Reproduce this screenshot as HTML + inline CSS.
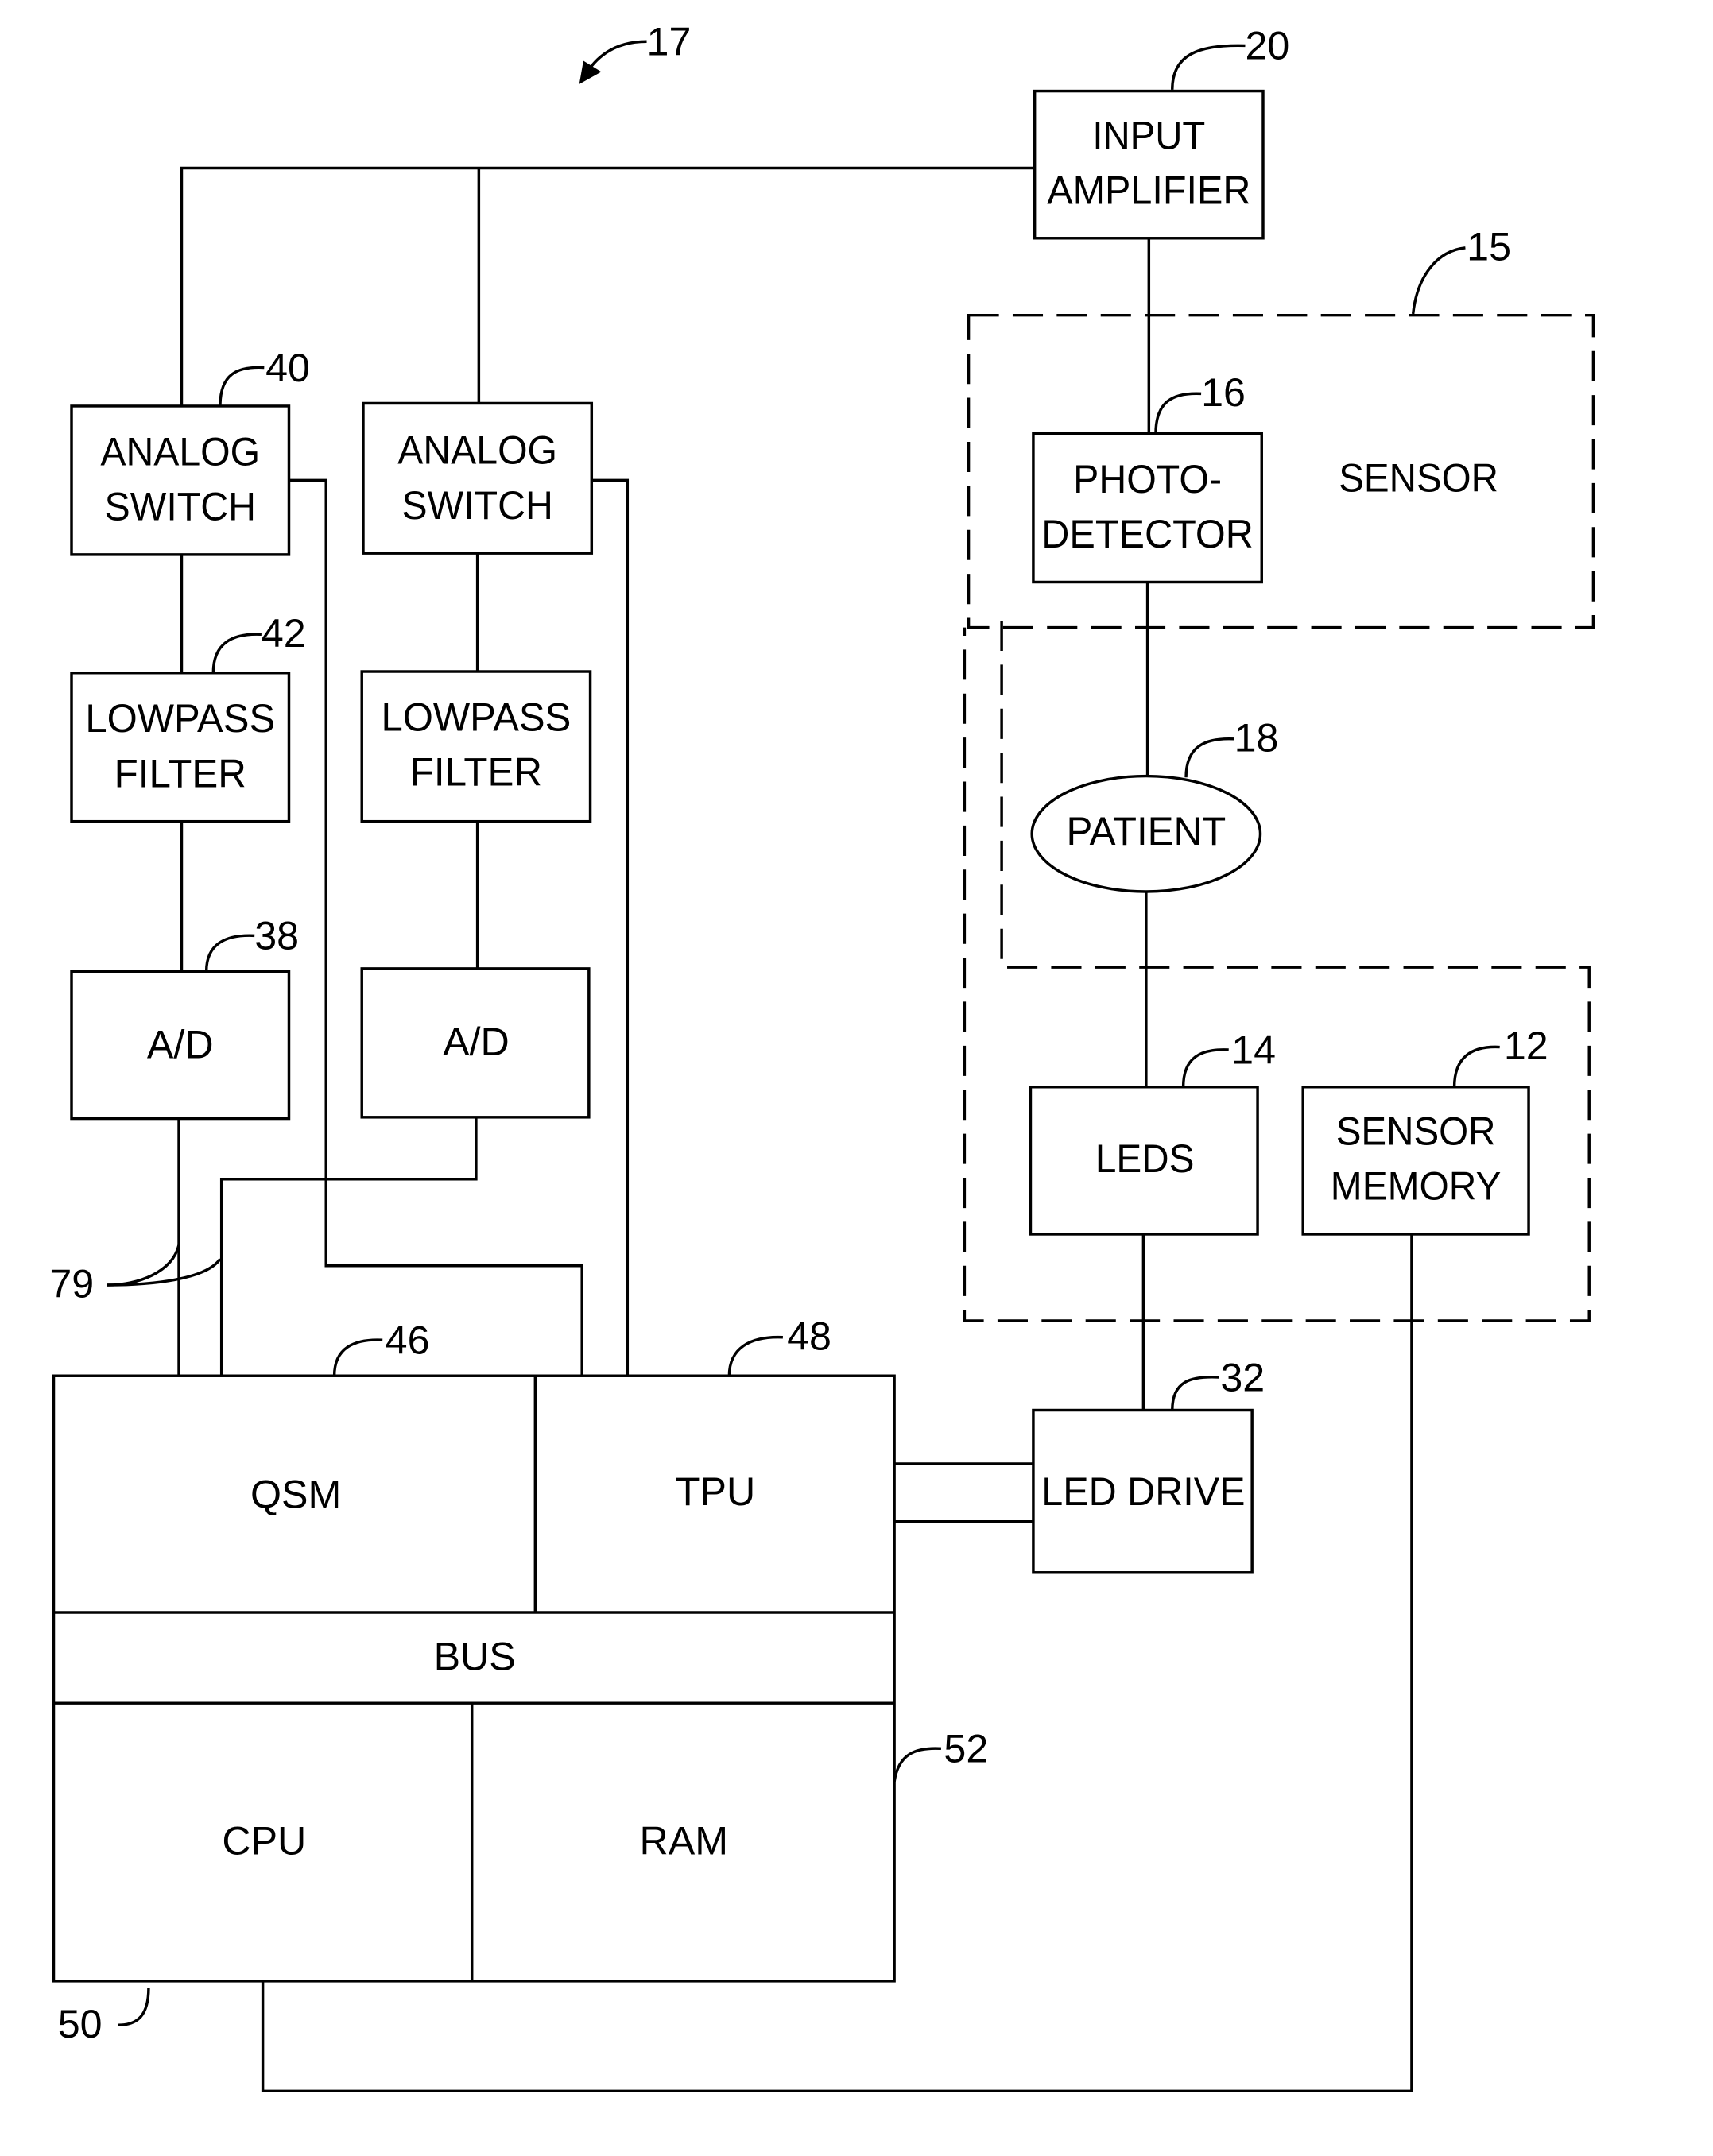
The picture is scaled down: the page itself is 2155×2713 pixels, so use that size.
<!DOCTYPE html>
<html><head><meta charset="utf-8"><style>
html,body{margin:0;padding:0;background:#fff;}
svg{display:block;}
text{font-family:"Liberation Sans",sans-serif;fill:#000;font-size:29px;}
</style></head><body>
<svg width="2155" height="2713" viewBox="0 0 1245 1567" xmlns="http://www.w3.org/2000/svg">
<g fill="none" stroke="#000" stroke-width="2">
<!-- boxes -->
<rect x="752" y="66" width="166" height="107"/>
<rect x="52" y="295" width="158" height="108"/>
<rect x="264" y="293" width="166" height="109"/>
<rect x="52" y="489" width="158" height="108"/>
<rect x="263" y="488" width="166" height="109"/>
<rect x="52" y="706" width="158" height="107"/>
<rect x="263" y="704" width="165" height="108"/>
<rect x="751" y="315" width="166" height="108"/>
<ellipse cx="833" cy="606" rx="83" ry="42"/>
<rect x="749" y="790" width="165" height="107"/>
<rect x="947" y="790" width="164" height="107"/>
<rect x="751" y="1025" width="159" height="118"/>
<!-- main block -->
<rect x="39" y="1000" width="611" height="440"/>
<line x1="389" y1="1000" x2="389" y2="1172"/>
<line x1="39" y1="1172" x2="650" y2="1172"/>
<line x1="39" y1="1238" x2="650" y2="1238"/>
<line x1="343" y1="1238" x2="343" y2="1440"/>
<!-- wires -->
<polyline points="132,295 132,122 752,122"/>
<line x1="348" y1="122" x2="348" y2="293"/>
<polyline points="210,349 237,349 237,920 423,920 423,1000"/>
<polyline points="430,349 456,349 456,1000"/>
<line x1="132" y1="403" x2="132" y2="489"/>
<line x1="132" y1="597" x2="132" y2="706"/>
<line x1="130" y1="813" x2="130" y2="1000"/>
<line x1="347" y1="402" x2="347" y2="488"/>
<line x1="347" y1="597" x2="347" y2="704"/>
<polyline points="346,812 346,857 161,857 161,1000"/>
<line x1="835" y1="173" x2="835" y2="315"/>
<line x1="834" y1="423" x2="834" y2="564"/>
<line x1="833" y1="648" x2="833" y2="790"/>
<line x1="831" y1="897" x2="831" y2="1025"/>
<line x1="650" y1="1064" x2="751" y2="1064"/>
<line x1="650" y1="1106" x2="751" y2="1106"/>
<polyline points="1026,897 1026,1520 191,1520 191,1440"/>
<!-- dashed -->
<g stroke-dasharray="22,10">
<rect x="704" y="229" width="454" height="227"/>
<polyline points="728,451 728,703 1155,703 1155,960 701,960 701,456"/>
</g>
<!-- leaders -->
<path d="M852,65 C852,40 870,32 905,33"/>
<path d="M160,295 C160,272 172,266 192,267"/>
<path d="M155,489 C155,468 168,460 190,461"/>
<path d="M150,706 C150,686 164,679 185,680"/>
<path d="M840,315 C840,292 852,285 873,286"/>
<path d="M862,565 C862,543 875,536 897,537"/>
<path d="M860,790 C860,769 872,762 893,763"/>
<path d="M1057,790 C1057,768 1070,760 1090,761"/>
<path d="M852,1025 C852,1004 865,1000 886,1001"/>
<path d="M243,1000 C243,980 257,973 278,974"/>
<path d="M530,1000 C530,980 545,971 569,972"/>
<path d="M650,1295 C653,1275 665,1270 684,1271"/>
<path d="M108,1445 C108,1465 100,1472 86,1472"/>
<path d="M1027,228 C1030,200 1045,182 1065,180"/>
<path d="M78,934 C100,934 125,925 130,905"/>
<path d="M78,934 C110,934 150,930 160,915"/>
<path d="M470,30 C450,30 435,38 425,55"/>
</g>
<polygon points="421,61 424,44 437,52" fill="#000"/>
<!-- labels -->
<g text-anchor="middle">
<text x="835" y="108" textLength="82" lengthAdjust="spacingAndGlyphs">INPUT</text>
<text x="835" y="148" textLength="148" lengthAdjust="spacingAndGlyphs">AMPLIFIER</text>
<text x="131" y="338" textLength="116" lengthAdjust="spacingAndGlyphs">ANALOG</text>
<text x="131" y="378" textLength="110" lengthAdjust="spacingAndGlyphs">SWITCH</text>
<text x="347" y="337" textLength="116" lengthAdjust="spacingAndGlyphs">ANALOG</text>
<text x="347" y="377" textLength="110" lengthAdjust="spacingAndGlyphs">SWITCH</text>
<text x="131" y="532" textLength="138" lengthAdjust="spacingAndGlyphs">LOWPASS</text>
<text x="131" y="572" textLength="96" lengthAdjust="spacingAndGlyphs">FILTER</text>
<text x="346" y="531" textLength="138" lengthAdjust="spacingAndGlyphs">LOWPASS</text>
<text x="346" y="571" textLength="96" lengthAdjust="spacingAndGlyphs">FILTER</text>
<text x="131" y="769">A/D</text>
<text x="346" y="767">A/D</text>
<text x="834" y="358" textLength="108" lengthAdjust="spacingAndGlyphs">PHOTO-</text>
<text x="834" y="398" textLength="154" lengthAdjust="spacingAndGlyphs">DETECTOR</text>
<text x="1031" y="357" textLength="116" lengthAdjust="spacingAndGlyphs">SENSOR</text>
<text x="833" y="614" textLength="116" lengthAdjust="spacingAndGlyphs">PATIENT</text>
<text x="832" y="852" textLength="72" lengthAdjust="spacingAndGlyphs">LEDS</text>
<text x="1029" y="832" textLength="116" lengthAdjust="spacingAndGlyphs">SENSOR</text>
<text x="1029" y="872" textLength="124" lengthAdjust="spacingAndGlyphs">MEMORY</text>
<text x="831" y="1094" textLength="148" lengthAdjust="spacingAndGlyphs">LED DRIVE</text>
<text x="215" y="1096">QSM</text>
<text x="520" y="1094">TPU</text>
<text x="345" y="1214">BUS</text>
<text x="192" y="1348">CPU</text>
<text x="497" y="1348">RAM</text>
</g>
<g>
<text x="470" y="40">17</text>
<text x="905" y="43">20</text>
<text x="1066" y="189">15</text>
<text x="193" y="277">40</text>
<text x="873" y="295">16</text>
<text x="190" y="470">42</text>
<text x="897" y="546">18</text>
<text x="185" y="690">38</text>
<text x="895" y="773">14</text>
<text x="1093" y="770">12</text>
<text x="36" y="943">79</text>
<text x="280" y="984">46</text>
<text x="572" y="981">48</text>
<text x="887" y="1011">32</text>
<text x="686" y="1281">52</text>
<text x="42" y="1481">50</text>
</g>
</svg>
</body></html>
